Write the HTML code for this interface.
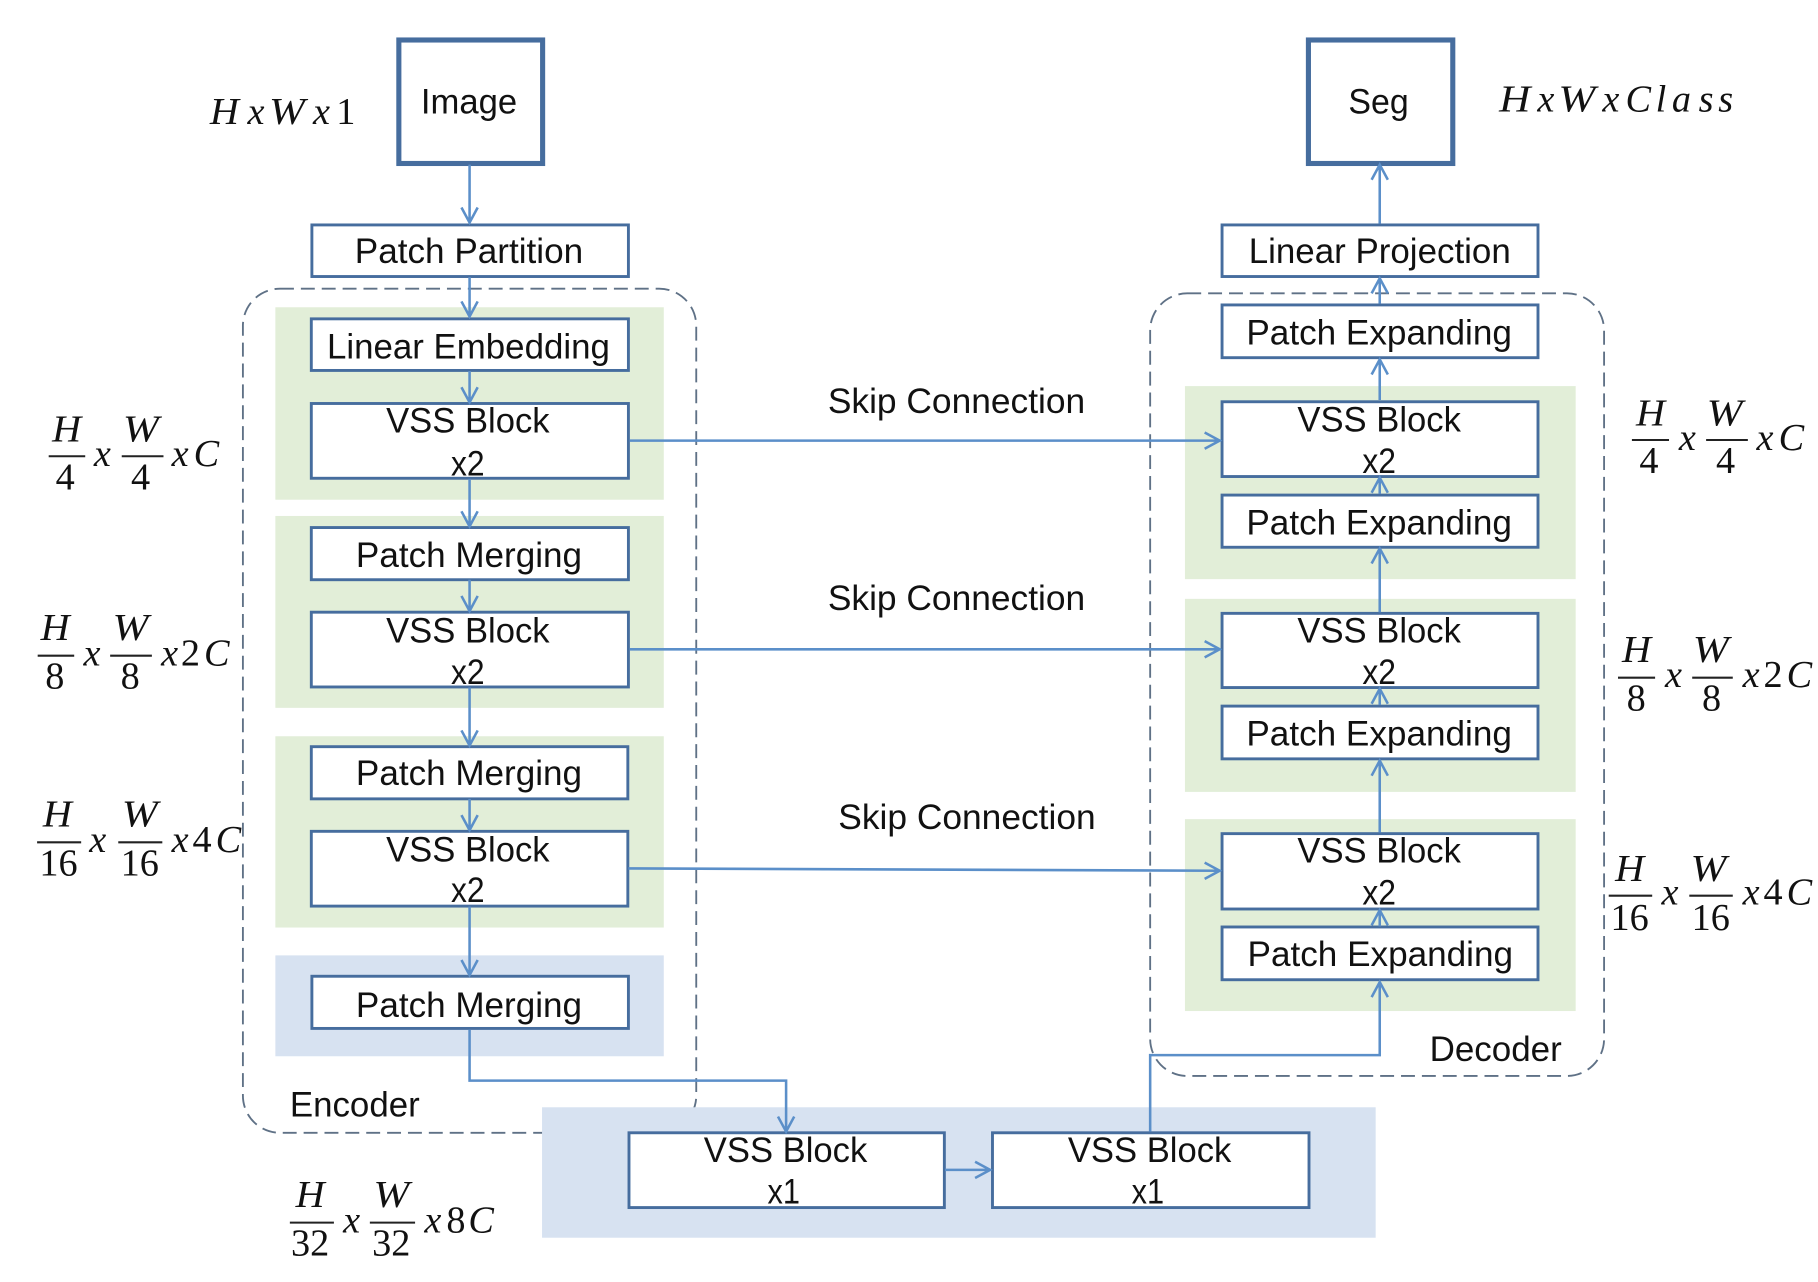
<!DOCTYPE html>
<html>
<head>
<meta charset="utf-8">
<style>
html,body{margin:0;padding:0;background:#fff;}
svg{display:block;}
.t{font-family:"Liberation Sans",sans-serif;font-size:30px;fill:#111;}
.m{font-family:"Liberation Serif",serif;font-size:33px;font-style:italic;fill:#111;}
.n{font-family:"Liberation Serif",serif;font-size:33px;font-style:normal;fill:#111;}
.b{fill:#fff;stroke:#466d9e;stroke-width:2.5;}
.bb{fill:#fff;stroke:#466d9e;stroke-width:4.4;}
.c{fill:none;stroke:#5b8fc9;stroke-width:2.2;}
.d{fill:none;stroke:#5f7186;stroke-width:1.6;stroke-dasharray:12 6;}
.f{stroke:#222;stroke-width:1.8;}
</style>
</head>
<body>
<svg xmlns="http://www.w3.org/2000/svg" width="1818" height="1282" viewBox="0 0 1568 1105.7" preserveAspectRatio="none">
<rect width="1568" height="1106" fill="#fff"/>

<!-- panels -->
<g fill="#e2eed8">
<rect x="237.5" y="265" width="335" height="166"/>
<rect x="237.5" y="445" width="335" height="165.5"/>
<rect x="237.5" y="635" width="335" height="165"/>
<rect x="1022" y="333" width="337" height="166.5"/>
<rect x="1022" y="516.5" width="337" height="166.5"/>
<rect x="1022" y="706.5" width="337" height="165.5"/>
</g>
<rect x="237.5" y="824" width="335" height="87" fill="#d7e2f1"/>

<!-- dashed containers -->
<rect x="209.5" y="249" width="391" height="728" rx="32" ry="32" class="d"/>
<rect x="992" y="253" width="391.5" height="675" rx="32" ry="32" class="d"/>

<rect x="467.5" y="955" width="719" height="112.5" fill="#d7e2f1"/>

<!-- big boxes -->
<rect x="344" y="34.5" width="124" height="106.5" class="bb"/>
<rect x="1128.5" y="34.5" width="124.5" height="106.5" class="bb"/>

<!-- boxes -->
<g>
<rect x="269" y="194" width="273" height="44.5" class="b"/>
<rect x="268.5" y="275" width="273.5" height="44.5" class="b"/>
<rect x="268.5" y="348" width="273.5" height="64.5" class="b"/>
<rect x="268.5" y="455" width="273.5" height="45" class="b"/>
<rect x="268.5" y="528" width="273.5" height="64.5" class="b"/>
<rect x="268.5" y="644" width="273" height="45" class="b"/>
<rect x="268.5" y="717" width="273" height="64.5" class="b"/>
<rect x="269" y="842" width="273" height="45" class="b"/>
<rect x="1054" y="194" width="272.5" height="44.5" class="b"/>
<rect x="1054" y="263" width="272.5" height="45.5" class="b"/>
<rect x="1054" y="346.5" width="272.5" height="64.5" class="b"/>
<rect x="1054" y="427" width="272.5" height="45" class="b"/>
<rect x="1054" y="529" width="272.5" height="64" class="b"/>
<rect x="1054" y="609" width="272.5" height="45.5" class="b"/>
<rect x="1054" y="719" width="272.5" height="65" class="b"/>
<rect x="1054" y="799.5" width="272.5" height="45.5" class="b"/>
<rect x="542.5" y="977" width="272" height="64.5" class="b"/>
<rect x="856" y="977" width="273" height="64.5" class="b"/>
</g>

<!-- connectors -->
<g class="c">
<path d="M405 142V192M398 179L405 192L412 179"/>
<path d="M405 239V273M398 260L405 273L412 260"/>
<path d="M405 320V347M398 334L405 347L412 334"/>
<path d="M405 413V454M398 441L405 454L412 441"/>
<path d="M405 500V527M398 514L405 527L412 514"/>
<path d="M405 593V643M398 630L405 643L412 630"/>
<path d="M405 689V716M398 703L405 716L412 703"/>
<path d="M405 782V841M398 828L405 841L412 828"/>
<path d="M405 888V932H678V976M671 963L678 976L685 963"/>
<path d="M543 380H1052M1039 373L1052 380L1039 387"/>
<path d="M543 560H1052M1039 553L1052 560L1039 567"/>
<path d="M542 749L1052 751M1039 744L1052 751L1039 758"/>
<path d="M815 1009H854M841 1002L854 1009L841 1016"/>
<path d="M1190 193V142M1183 155L1190 142L1197 155"/>
<path d="M1190 262V240M1183 253L1190 240L1197 253"/>
<path d="M1190 345V310M1183 323L1190 310L1197 323"/>
<path d="M1190 426V412M1183 425L1190 412L1197 425"/>
<path d="M1190 528V473M1183 486L1190 473L1197 486"/>
<path d="M1190 608V594M1183 607L1190 594L1197 607"/>
<path d="M1190 718V656M1183 669L1190 656L1197 669"/>
<path d="M1190 799V785M1183 798L1190 785L1197 798"/>
<path d="M992 976V910H1190V847M1183 860L1190 847L1197 860"/>
</g>

<!-- box labels -->
<g class="t">
<text x="363" y="98" textLength="83" lengthAdjust="spacingAndGlyphs">Image</text>
<text x="1163" y="98" textLength="52" lengthAdjust="spacingAndGlyphs">Seg</text>
<text x="306" y="227" textLength="197" lengthAdjust="spacingAndGlyphs">Patch Partition</text>
<text x="282" y="309" textLength="244" lengthAdjust="spacingAndGlyphs">Linear Embedding</text>
<text x="333" y="373" textLength="141" lengthAdjust="spacingAndGlyphs">VSS Block</text>
<text x="389" y="410" textLength="29" lengthAdjust="spacingAndGlyphs">x2</text>
<text x="307" y="489" textLength="195" lengthAdjust="spacingAndGlyphs">Patch Merging</text>
<text x="333" y="554" textLength="141" lengthAdjust="spacingAndGlyphs">VSS Block</text>
<text x="389" y="590" textLength="29" lengthAdjust="spacingAndGlyphs">x2</text>
<text x="307" y="677" textLength="195" lengthAdjust="spacingAndGlyphs">Patch Merging</text>
<text x="333" y="743" textLength="141" lengthAdjust="spacingAndGlyphs">VSS Block</text>
<text x="389" y="778" textLength="29" lengthAdjust="spacingAndGlyphs">x2</text>
<text x="307" y="877" textLength="195" lengthAdjust="spacingAndGlyphs">Patch Merging</text>
<text x="250" y="963" textLength="112" lengthAdjust="spacingAndGlyphs">Encoder</text>
<text x="1077" y="227" textLength="226" lengthAdjust="spacingAndGlyphs">Linear Projection</text>
<text x="1075" y="297" textLength="229" lengthAdjust="spacingAndGlyphs">Patch Expanding</text>
<text x="1119" y="372" textLength="141" lengthAdjust="spacingAndGlyphs">VSS Block</text>
<text x="1175" y="408" textLength="29" lengthAdjust="spacingAndGlyphs">x2</text>
<text x="1075" y="461" textLength="229" lengthAdjust="spacingAndGlyphs">Patch Expanding</text>
<text x="1119" y="554" textLength="141" lengthAdjust="spacingAndGlyphs">VSS Block</text>
<text x="1175" y="590" textLength="29" lengthAdjust="spacingAndGlyphs">x2</text>
<text x="1075" y="643" textLength="229" lengthAdjust="spacingAndGlyphs">Patch Expanding</text>
<text x="1119" y="744" textLength="141" lengthAdjust="spacingAndGlyphs">VSS Block</text>
<text x="1175" y="780" textLength="29" lengthAdjust="spacingAndGlyphs">x2</text>
<text x="1076" y="833" textLength="229" lengthAdjust="spacingAndGlyphs">Patch Expanding</text>
<text x="1233" y="915" textLength="114" lengthAdjust="spacingAndGlyphs">Decoder</text>
<text x="607" y="1002" textLength="141" lengthAdjust="spacingAndGlyphs">VSS Block</text>
<text x="662" y="1038" textLength="28" lengthAdjust="spacingAndGlyphs">x1</text>
<text x="921" y="1002" textLength="141" lengthAdjust="spacingAndGlyphs">VSS Block</text>
<text x="976" y="1038" textLength="28" lengthAdjust="spacingAndGlyphs">x1</text>
<text x="714" y="356" textLength="222" lengthAdjust="spacingAndGlyphs">Skip Connection</text>
<text x="714" y="526" textLength="222" lengthAdjust="spacingAndGlyphs">Skip Connection</text>
<text x="723" y="715" textLength="222" lengthAdjust="spacingAndGlyphs">Skip Connection</text>
</g>

<!-- math: HxWx1 -->
<g class="m">
<text x="181" y="107" textLength="25" lengthAdjust="spacingAndGlyphs">H</text>
<text x="213.5" y="107">x</text>
<text x="232" y="107" textLength="31" lengthAdjust="spacingAndGlyphs">W</text>
<text x="270" y="107">x</text>
<text class="n" x="290" y="107">1</text>
</g>
<!-- math: HxWxClass -->
<g class="m">
<text x="1293" y="96" textLength="27" lengthAdjust="spacingAndGlyphs">H</text>
<text x="1326" y="96">x</text>
<text x="1344" y="96" textLength="32" lengthAdjust="spacingAndGlyphs">W</text>
<text x="1382" y="96">x</text>
<text x="1402" y="96">C</text>
<text x="1428" y="96">l</text>
<text x="1442" y="96">a</text>
<text x="1465" y="96">s</text>
<text x="1482" y="96">s</text>
</g>

<!-- left 1 -->
<g class="m">
<text x="45" y="381" textLength="25" lengthAdjust="spacingAndGlyphs">H</text>
<text class="n" x="48" y="422">4</text>
<text x="81" y="402">x</text>
<text x="106" y="381" textLength="31" lengthAdjust="spacingAndGlyphs">W</text>
<text class="n" x="113" y="422">4</text>
<text x="148" y="402">x</text>
<text x="167" y="402">C</text>
</g>
<path class="f" d="M42 393.5H73.5M105 393.5H141"/>

<!-- left 2 -->
<g class="m">
<text x="35" y="552" textLength="25" lengthAdjust="spacingAndGlyphs">H</text>
<text class="n" x="39" y="594">8</text>
<text x="72" y="574">x</text>
<text x="97" y="552" textLength="31" lengthAdjust="spacingAndGlyphs">W</text>
<text class="n" x="104" y="594">8</text>
<text x="139" y="574">x</text>
<text class="n" x="156" y="574">2</text>
<text x="176" y="574">C</text>
</g>
<path class="f" d="M32.5 565.5H64M95 565.5H131"/>

<!-- left 3 -->
<g class="m">
<text x="37" y="713" textLength="25" lengthAdjust="spacingAndGlyphs">H</text>
<text class="n" x="34" y="755">16</text>
<text x="77" y="735">x</text>
<text x="105" y="713" textLength="31" lengthAdjust="spacingAndGlyphs">W</text>
<text class="n" x="104" y="755">16</text>
<text x="148" y="735">x</text>
<text class="n" x="166" y="735">4</text>
<text x="186" y="735">C</text>
</g>
<path class="f" d="M32 726.5H70M102 726.5H140"/>

<!-- left 4 -->
<g class="m">
<text x="255" y="1041" textLength="25" lengthAdjust="spacingAndGlyphs">H</text>
<text class="n" x="251" y="1083">32</text>
<text x="296" y="1063">x</text>
<text x="322" y="1041" textLength="31" lengthAdjust="spacingAndGlyphs">W</text>
<text class="n" x="321" y="1083">32</text>
<text x="366" y="1063">x</text>
<text class="n" x="385" y="1063">8</text>
<text x="404" y="1063">C</text>
</g>
<path class="f" d="M250 1054.5H288M319 1054.5H358"/>

<!-- right 1 -->
<g class="m">
<text x="1411" y="367" textLength="25" lengthAdjust="spacingAndGlyphs">H</text>
<text class="n" x="1414" y="408">4</text>
<text x="1448" y="388">x</text>
<text x="1472" y="367" textLength="31" lengthAdjust="spacingAndGlyphs">W</text>
<text class="n" x="1480" y="408">4</text>
<text x="1515" y="388">x</text>
<text x="1534" y="388">C</text>
</g>
<path class="f" d="M1407.5 379.5H1439.5M1471.5 379.5H1507.5"/>

<!-- right 2 -->
<g class="m">
<text x="1399" y="571" textLength="25" lengthAdjust="spacingAndGlyphs">H</text>
<text class="n" x="1403" y="613">8</text>
<text x="1436" y="592.5">x</text>
<text x="1460" y="571" textLength="31" lengthAdjust="spacingAndGlyphs">W</text>
<text class="n" x="1468" y="613">8</text>
<text x="1503" y="592.5">x</text>
<text class="n" x="1521" y="592.5">2</text>
<text x="1541" y="592.5">C</text>
</g>
<path class="f" d="M1395.5 584.5H1427.5M1459.5 584.5H1494.5"/>

<!-- right 3 -->
<g class="m">
<text x="1393" y="760" textLength="25" lengthAdjust="spacingAndGlyphs">H</text>
<text class="n" x="1389" y="802">16</text>
<text x="1433" y="780">x</text>
<text x="1458" y="760" textLength="31" lengthAdjust="spacingAndGlyphs">W</text>
<text class="n" x="1459" y="802">16</text>
<text x="1503" y="780">x</text>
<text class="n" x="1521" y="780">4</text>
<text x="1541" y="780">C</text>
</g>
<path class="f" d="M1387.5 772.5H1425M1457 772.5H1494.5"/>
</svg>
</body>
</html>
